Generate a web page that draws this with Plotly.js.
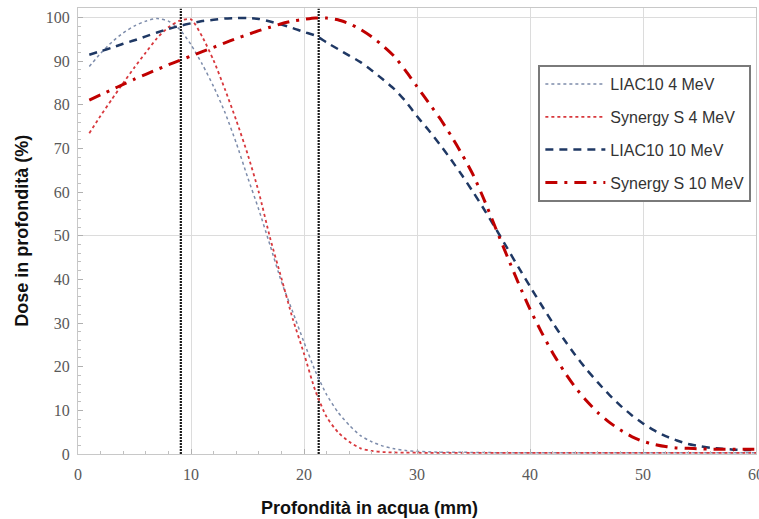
<!DOCTYPE html>
<html>
<head>
<meta charset="utf-8">
<script src="https://cdn.plot.ly/plotly-3.0.1.min.js"></script>
<style>html,body{margin:0;padding:0;background:#fff;}#chart{width:759px;height:519px;}</style>
</head>
<body>
<div id="chart"></div>
<script>
// Depth in water (mm)
const depth = [1,2,3,4,5,6,7,8,9,10,11,12,13,14,15,16,17,18,19,20,21,22,23,24,25,26,27,28,29,30,
               31,32,33,34,35,36,37,38,39,40,41,42,43,44,45,46,47,48,49,50,51,52,53,54,55,56,57,58,59,60];

const liac4 = [88.8,91.8,94.4,96.5,98.1,99.2,99.8,99.2,97.3,93.8,89.3,84.2,78.3,71.3,63.5,56.0,47.8,39.5,32.6,25.6,19.0,13.6,9.6,6.6,4.2,2.8,1.8,1.2,0.8,0.6,
               0.5,0.4,0.4,0.4,0.35,0.35,0.3,0.3,0.3,0.3,0.3,0.3,0.3,0.3,0.3,0.3,0.3,0.3,0.3,0.3,0.3,0.3,0.3,0.3,0.3,0.3,0.3,0.3,0.3,0.3];

const synergy4 = [73.5,77.5,81.3,85.0,88.6,92.0,95.3,97.8,99.3,99.6,95.6,90.2,83.6,76.5,68.8,60.0,49.5,40.3,31.0,23.0,14.5,8.5,5.0,2.8,1.3,0.7,0.45,0.35,0.3,0.3,
                  0.25,0.25,0.25,0.25,0.25,0.25,0.25,0.25,0.25,0.25,0.25,0.25,0.25,0.25,0.25,0.25,0.25,0.25,0.25,0.25,0.25,0.25,0.25,0.25,0.25,0.25,0.25,0.25,0.25,0.25];

const liac10 = [91.5,92.3,93.1,94.0,94.8,95.7,96.6,97.4,98.1,98.7,99.2,99.5,99.8,99.9,99.9,99.7,99.1,98.4,97.6,96.7,95.9,94.3,92.8,91.3,89.8,87.9,85.8,83.6,80.8,77.4,
                74.3,71.0,67.5,63.8,59.9,55.8,51.5,47.1,42.7,38.4,34.2,30.1,26.3,22.7,19.4,16.4,13.6,11.1,8.9,7.0,5.4,4.1,3.1,2.3,1.8,1.4,1.2,1.0,0.9,0.9];

const synergy10 = [81.1,82.3,83.5,84.7,85.9,87.0,88.1,89.2,90.2,91.2,92.2,93.2,94.2,95.2,96.1,97.0,97.8,98.6,99.2,99.6,99.9,99.9,99.5,98.6,97.3,95.6,93.5,91.1,87.8,84.2,
                   80.6,77.0,73.0,68.6,63.8,57.9,51.5,45.2,39.0,33.2,28.0,23.2,19.0,15.3,12.2,9.5,7.3,5.5,4.0,2.9,2.2,1.7,1.4,1.3,1.2,1.1,1.1,1.1,1.1,1.1];

// Reference depths (vertical markers) and their dose extent
const markerDepths = [9.1, 21.3];
const markerDose = [0, 102];

const seriesNames = ["LIAC10 4 MeV", "Synergy S 4 MeV", "LIAC10 10 MeV", "Synergy S 10 MeV"];
const xTickVals = [0,10,20,30,40,50,60];
const yTickVals = [0,10,20,30,40,50,60,70,80,90,100];
const yGridVals = [50,100];

const traces = [];
markerDepths.forEach(function(d){
  traces.push({x:[d,d], y:markerDose, mode:'lines', showlegend:false, hoverinfo:'skip',
    line:{color:'#1a1a1a', width:2.2, dash:'2px,1px'}});
});
const styles = [
  {color:'#7d8cab', width:1.5, dash:'dot'},
  {color:'#d8383d', width:1.8, dash:'dot'},
  {color:'#1f3864', width:2.5, dash:'8px,6px'},
  {color:'#c00000', width:3, dash:'12px,7px,3px,7px'}
];
[liac4, synergy4, liac10, synergy10].forEach(function(v,i){
  traces.push({x:depth, y:v, name:seriesNames[i], mode:'lines', legendgroup:'g'+i,
    line:Object.assign({shape:'spline', smoothing:0.6}, styles[i])});
});
// invisible trace on overlay axis for the y gridlines at 50 / 100
traces.push({x:[0], y:[0], yaxis:'y2', mode:'markers', marker:{opacity:0}, showlegend:false, hoverinfo:'skip'});

const tickFont = {family:'serif', size:16, color:'#595959'};
const sansBold = {family:'Liberation Sans, Arial, sans-serif', size:18, color:'#111'};

const layout = {
  width:759, height:519,
  margin:{l:78, r:3, t:8, b:65},
  paper_bgcolor:'#fff', plot_bgcolor:'#fff',
  showlegend:true,
  legend:{x:0.679, y:0.872, xanchor:'left', yanchor:'top',
    bordercolor:'#7a7a7a', borderwidth:2, bgcolor:'#fff',
    font:{family:'Liberation Sans, Arial, sans-serif', size:16, color:'#333'},
    tracegroupgap:9, itemwidth:60},
  xaxis:{range:[0,60], tickvals:xTickVals, ticktext:xTickVals.map(String),
    showgrid:true, gridcolor:'#dcdcdc', gridwidth:1,
    showline:true, linecolor:'#c8c8c8', linewidth:1, mirror:true,
    ticks:'inside', ticklen:5, tickcolor:'#b0b0b0',
    minor:{dtick:2, ticks:'inside', ticklen:3, tickcolor:'#c0c0c0', showgrid:false},
    tickfont:tickFont, ticklabelstandoff:6, ticklabeloverflow:'allow',
    zeroline:false, automargin:false, fixedrange:true},
  yaxis:{range:[0,102.2], tickvals:yTickVals, ticktext:yTickVals.map(String),
    showgrid:false,
    showline:true, linecolor:'#c8c8c8', linewidth:1, mirror:true,
    ticks:'inside', ticklen:5, tickcolor:'#b0b0b0',
    minor:{dtick:2, ticks:'inside', ticklen:3, tickcolor:'#c0c0c0', showgrid:false},
    tickfont:tickFont, ticklabelstandoff:4, zeroline:false, automargin:false, fixedrange:true},
  yaxis2:{range:[0,102.2], overlaying:'y', side:'left', tickvals:yGridVals, showticklabels:false,
    showgrid:true, gridcolor:'#dcdcdc', gridwidth:1, ticks:'', showline:false, zeroline:false, automargin:false, fixedrange:true},
  annotations:[
    {text:'<b>Profondità in acqua (mm)</b>', xref:'paper', yref:'paper', x:0.43, y:-0.121, xanchor:'center', yanchor:'middle',
      showarrow:false, font:sansBold},
    {text:'<b>Dose in profondità (%)</b>', xref:'paper', yref:'paper', x:-0.083, y:0.5, xanchor:'center', yanchor:'middle',
      textangle:-90, showarrow:false, font:sansBold}
  ]
};

Plotly.newPlot('chart', traces, layout, {staticPlot:true, displayModeBar:false});
</script>
</body>
</html>
